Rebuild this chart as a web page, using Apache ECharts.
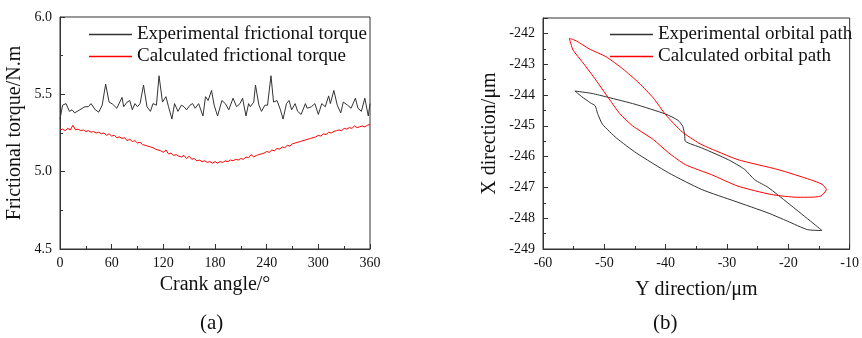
<!DOCTYPE html>
<html><head><meta charset="utf-8">
<script src="https://cdn.jsdelivr.net/npm/echarts@6/dist/echarts.min.js"></script>
<style>html,body{margin:0;padding:0;background:#fff}#c{width:862px;height:338px}</style>
</head><body><div id="c"></div>
<script>
// ---- Data ----
const expAngles = [0,3,7,11,14,17,23,29,33,36,41,45,49,53,57,61,66,72,74,78,81,84,87,90,93,97,101,105,108,112,115,119,123,126,130,133,137,141,144,147,151,154,157,161,163,166,169,172,176,179,183,188,192,196,198,201,205,209,212,216,219,221,225,227,231,234,238,241,245,248,252,256,259,263,266,269,273,276,280,285,287,292,296,300,304,308,312,314,318,322,326,329,334,338,343,346,350,354,358,360];
const expTorque = [5.34,5.43,5.44,5.39,5.40,5.38,5.40,5.42,5.42,5.44,5.40,5.385,5.43,5.566,5.45,5.437,5.41,5.48,5.42,5.45,5.46,5.40,5.44,5.42,5.44,5.56,5.42,5.39,5.44,5.43,5.62,5.45,5.485,5.42,5.34,5.44,5.39,5.43,5.42,5.40,5.43,5.44,5.41,5.44,5.45,5.36,5.485,5.46,5.525,5.43,5.36,5.46,5.44,5.40,5.39,5.475,5.42,5.44,5.475,5.36,5.44,5.42,5.45,5.56,5.43,5.39,5.43,5.43,5.62,5.45,5.46,5.40,5.34,5.44,5.46,5.40,5.44,5.39,5.37,5.44,5.41,5.42,5.44,5.37,5.44,5.42,5.49,5.44,5.525,5.43,5.38,5.45,5.43,5.41,5.475,5.41,5.39,5.475,5.36,5.44];
const calcAngles = [0,3,6,9,12,15,18,21,24,27,30,33,36,39,42,45,48,51,54,57,60,63,66,69,72,75,78,81,84,87,90,93,96,99,102,105,108,111,114,117,120,123,126,129,132,135,138,141,144,147,150,153,156,159,162,165,168,171,174,177,180,183,186,189,192,195,198,201,204,207,210,213,216,219,222,225,228,231,234,237,240,243,246,249,252,255,258,261,264,267,270,273,276,279,282,285,288,291,294,297,300,303,306,309,312,315,318,321,324,327,330,333,336,339,342,345,348,351,354,357,360];
const calcTorque = [5.27,5.275,5.265,5.28,5.27,5.30,5.27,5.275,5.265,5.27,5.26,5.265,5.255,5.26,5.25,5.255,5.245,5.25,5.235,5.245,5.23,5.235,5.22,5.225,5.215,5.22,5.20,5.21,5.195,5.20,5.185,5.19,5.175,5.17,5.165,5.16,5.155,5.145,5.14,5.135,5.125,5.14,5.115,5.12,5.105,5.11,5.10,5.095,5.105,5.085,5.10,5.08,5.085,5.07,5.075,5.065,5.07,5.06,5.065,5.055,5.065,5.055,5.065,5.06,5.07,5.065,5.075,5.07,5.08,5.075,5.085,5.08,5.095,5.09,5.11,5.095,5.105,5.11,5.115,5.12,5.13,5.125,5.14,5.135,5.15,5.145,5.16,5.155,5.17,5.165,5.18,5.185,5.19,5.195,5.20,5.205,5.21,5.215,5.22,5.225,5.235,5.23,5.245,5.24,5.255,5.25,5.26,5.265,5.27,5.265,5.28,5.275,5.285,5.28,5.295,5.285,5.29,5.295,5.29,5.30,5.305];

const expPathY = [-54.8,-52,-49.5,-45,-40,-38,-37.2,-36.9,-36.8,-34.1,-29.8,-27.1,-25.5,-23.3,-20.1,-14.5,-16.9,-20.1,-23.3,-28.7,-34.1,-39.5,-44.8,-48,-50.3,-51.1,-51.5,-52.3,-53.7,-54.8];
const expPathX = [-243.87,-243.95,-244.07,-244.3,-244.62,-244.82,-245.02,-245.3,-245.5,-245.72,-246.1,-246.42,-246.75,-247.0,-247.5,-248.4,-248.37,-248.1,-247.83,-247.45,-247.07,-246.53,-245.88,-245.4,-244.95,-244.6,-244.35,-244.25,-244.05,-243.87];
const calcPathY = [-55.7,-54.5,-52.5,-49.7,-47,-44.3,-42,-40,-37.3,-34.6,-33.5,-28.2,-21.7,-16.4,-14.5,-13.8,-14.7,-16.5,-18.5,-22.8,-28.2,-32.5,-36.8,-39.5,-42,-45.4,-47.5,-49.1,-51.8,-53.5,-55.1,-55.7];
const calcPathX = [-242.16,-242.25,-242.5,-242.76,-243.15,-243.62,-244.1,-244.64,-245.2,-245.56,-245.67,-246.1,-246.42,-246.75,-246.9,-247.07,-247.28,-247.32,-247.32,-247.23,-246.96,-246.59,-246.26,-245.88,-245.45,-245.0,-244.6,-244.16,-243.4,-242.95,-242.54,-242.16];

const names = ['Experimental frictional torque','Calculated frictional torque','Experimental orbital path','Calculated orbital path'];
const colors = ['#333333','#ff0000','#333333','#ff0000'];

// ---- Chart ----
const FONT = '"Liberation Serif","Times New Roman",serif';
const pair = (a,b) => a.map((v,i)=>[v,b[i]]);
const legendItem = i => ({name:names[i],icon:'path://M0,0L86,0L86,3L0,3Z',itemStyle:{color:colors[i],borderColor:colors[i],borderWidth:0,opacity:1}});
const axisCommon = {
  axisLine:{show:true,lineStyle:{color:'#333',width:1}},
  axisTick:{show:true,inside:true,length:5,lineStyle:{color:'#333'}},
  minorTick:{show:true,splitNumber:2,length:3,lineStyle:{color:'#333'}},
  splitLine:{show:false},
  axisLabel:{color:'#111',fontFamily:FONT,fontSize:14},
  nameTextStyle:{color:'#111',fontFamily:FONT,fontSize:20},
  nameLocation:'middle'
};
const legendCommon = {orient:'vertical',itemWidth:43,itemHeight:1.5,itemGap:3,
  textStyle:{fontFamily:FONT,fontSize:19,color:'#111'}};
const chart = echarts.init(document.getElementById('c'),null,{renderer:'canvas'});
chart.setOption({
  animation:false,
  backgroundColor:'#fff',
  title:[
    {text:'(a)',left:195,top:308,textStyle:{fontFamily:FONT,fontSize:21,fontWeight:'normal',color:'#111'}},
    {text:'(b)',left:648,top:308,textStyle:{fontFamily:FONT,fontSize:21,fontWeight:'normal',color:'#111'}}
  ],
  grid:[
    {left:60,top:17,width:310,height:232,show:true,borderColor:'#333',borderWidth:1},
    {left:543,top:18,width:310,height:231,show:true,borderColor:'#333',borderWidth:1}
  ],
  legend:[
    Object.assign({},legendCommon,{data:[legendItem(0),legendItem(1)],left:84,top:20}),
    Object.assign({},legendCommon,{data:[legendItem(2),legendItem(3)],left:605,top:20})
  ],
  xAxis:[
    Object.assign({},axisCommon,{gridIndex:0,type:'value',min:0,max:360,interval:60,name:'Crank angle/°',nameGap:26,
      axisLabel:Object.assign({},axisCommon.axisLabel,{margin:7})}),
    Object.assign({},axisCommon,{gridIndex:1,type:'value',min:-60,max:-10,interval:10,name:'Y direction/μm',nameGap:31,
      axisLabel:Object.assign({},axisCommon.axisLabel,{margin:7})})
  ],
  yAxis:[
    Object.assign({},axisCommon,{gridIndex:0,type:'value',min:4.5,max:6.0,interval:0.5,name:'Frictional torque/N.m',nameGap:35,
      axisLabel:Object.assign({},axisCommon.axisLabel,{margin:8,formatter:v=>v.toFixed(1)})}),
    Object.assign({},axisCommon,{gridIndex:1,type:'value',min:-249,max:-241.5,interval:1,name:'X direction/μm',nameGap:43,
      axisLabel:Object.assign({},axisCommon.axisLabel,{margin:8,showMaxLabel:false,formatter:v=>Number.isInteger(v)?String(v):''})})
  ],
  series:[
    {name:names[0],type:'line',xAxisIndex:0,yAxisIndex:0,symbol:'none',data:pair(expAngles,expTorque),
      lineStyle:{color:colors[0],width:1},itemStyle:{color:colors[0]}},
    {name:names[1],type:'line',xAxisIndex:0,yAxisIndex:0,symbol:'none',data:pair(calcAngles,calcTorque),
      lineStyle:{color:colors[1],width:1},itemStyle:{color:colors[1]}},
    {name:names[2],type:'line',xAxisIndex:1,yAxisIndex:1,symbol:'none',smooth:0.2,data:pair(expPathY,expPathX),
      lineStyle:{color:colors[2],width:1},itemStyle:{color:colors[2]}},
    {name:names[3],type:'line',xAxisIndex:1,yAxisIndex:1,symbol:'none',smooth:0.2,data:pair(calcPathY,calcPathX),
      lineStyle:{color:colors[3],width:1},itemStyle:{color:colors[3]}}
  ]
});
</script></body></html>
